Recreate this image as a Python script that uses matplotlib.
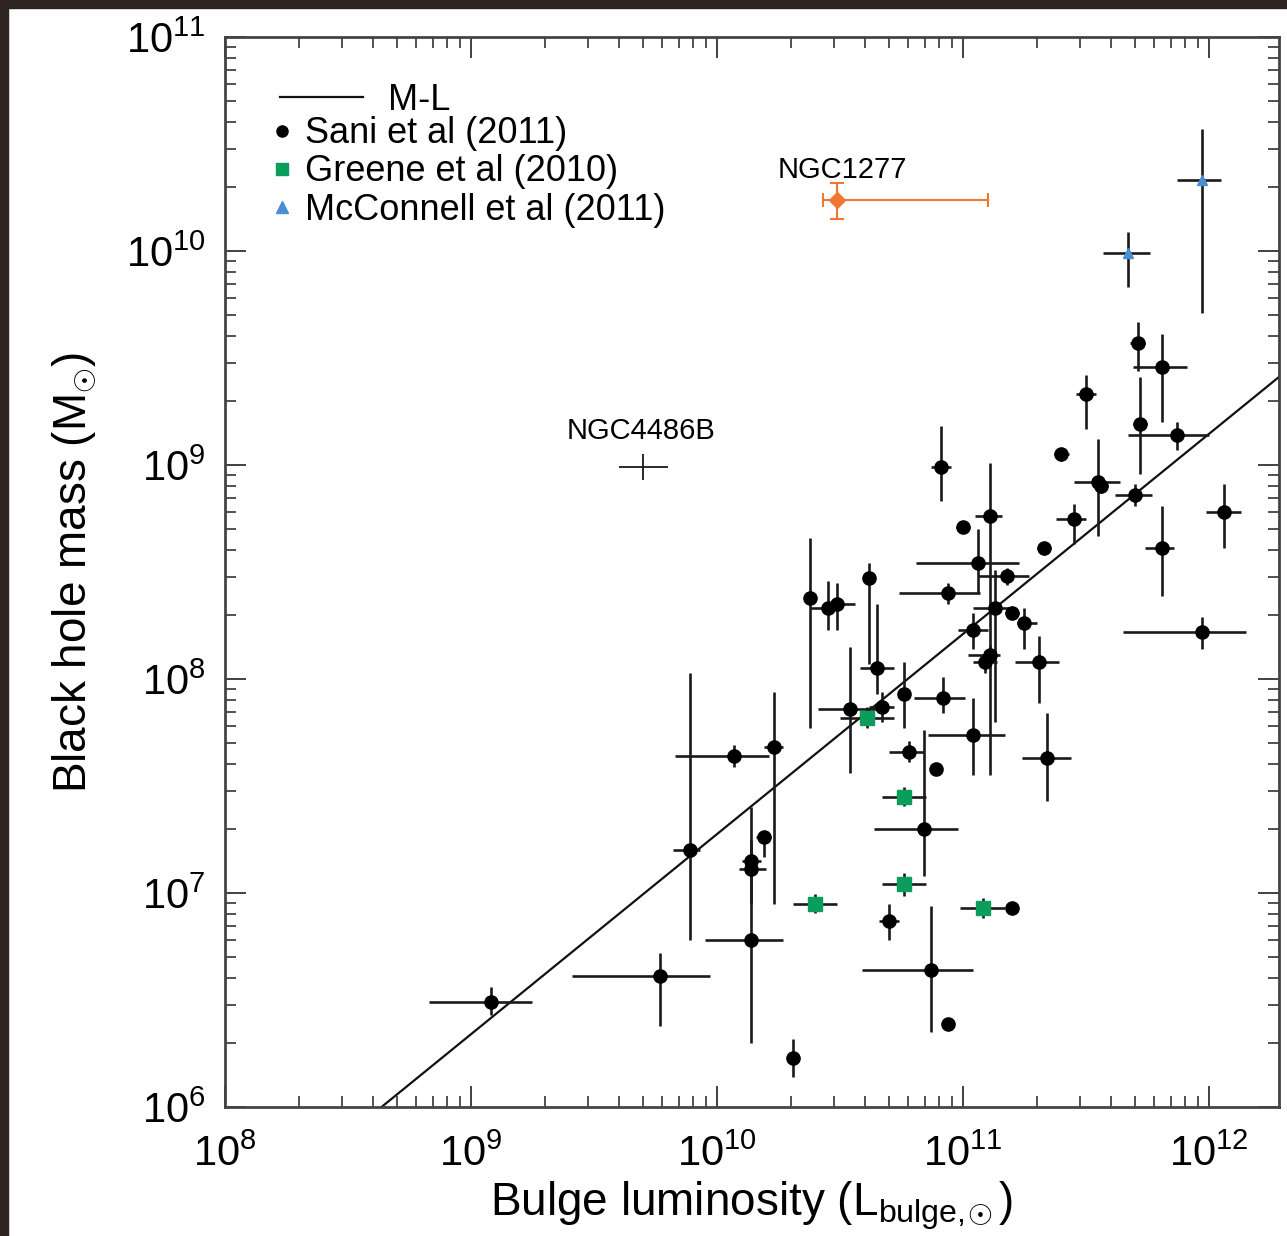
import numpy as np
import matplotlib
matplotlib.use("Agg")
import matplotlib.pyplot as plt
from matplotlib.patches import Rectangle
from matplotlib.lines import Line2D
from matplotlib.ticker import LogLocator, NullFormatter

plt.rcParams['font.family'] = ['Liberation Sans', 'DejaVu Sans']
plt.rcParams['mathtext.fontset'] = 'custom'
plt.rcParams['mathtext.rm'] = 'Liberation Sans'
plt.rcParams['mathtext.it'] = 'Liberation Sans:italic'

# Sani et al (2011): log L_bulge, log M_BH, errors in dex (minus, plus)
sani_logL = [9.08, 9.77, 9.89, 10.14, 10.14, 10.14, 10.19, 10.23, 10.07, 10.31,
             10.38, 10.45, 10.49, 10.62, 10.65, 10.54, 10.67, 10.76, 10.92, 10.78,
             10.89, 10.84, 10.70, 10.87, 10.94, 11.20, 11.04, 11.11, 11.13, 11.11,
             11.09, 10.91, 11.00, 11.06, 11.18, 10.94, 11.20, 11.25, 11.04, 11.31,
             11.34, 11.33, 11.40, 11.45, 11.55, 11.56, 11.70, 11.81, 12.06, 11.97,
             11.50, 11.71, 11.81, 11.72, 11.87]
sani_logM = [6.49, 6.61, 7.20, 6.78, 7.11, 7.15, 7.26, 7.68, 7.64, 6.23,
             8.38, 8.33, 8.35, 8.47, 8.05, 7.86, 7.87, 7.93, 7.91, 7.66,
             7.58, 7.30, 6.87, 6.64, 6.39, 6.93, 7.74, 8.76, 8.33, 8.11,
             8.08, 8.99, 8.71, 8.54, 8.48, 8.40, 8.31, 8.26, 8.23, 8.08,
             7.63, 8.61, 9.05, 8.75, 8.92, 8.90, 8.86, 8.61, 8.78, 8.22,
             9.33, 9.57, 9.46, 9.19, 9.14]
sani_xlo = [0.25, 0.36, 0.07, 0.19, 0.05, 0.04, 0.03, 0.04, 0.24, 0.0,
            0.02, 0.07, 0.05, 0.02, 0.07, 0.13, 0.05, 0.02, 0.12, 0.08,
            0.0, 0.20, 0.04, 0.28, 0.0, 0.0, 0.18, 0.06, 0.09, 0.09,
            0.05, 0.04, 0.03, 0.25, 0.12, 0.20, 0.03, 0.03, 0.06, 0.10,
            0.10, 0.03, 0.03, 0.07, 0.10, 0.03, 0.08, 0.07, 0.07, 0.32,
            0.04, 0.03, 0.12, 0.03, 0.20]
sani_xhi = [0.17, 0.20, 0.04, 0.13, 0.06, 0.04, 0.03, 0.04, 0.14, 0.0,
            0.02, 0.05, 0.07, 0.02, 0.07, 0.14, 0.05, 0.02, 0.09, 0.06,
            0.0, 0.14, 0.04, 0.17, 0.0, 0.0, 0.13, 0.05, 0.06, 0.04,
            0.05, 0.04, 0.03, 0.17, 0.09, 0.13, 0.03, 0.05, 0.06, 0.08,
            0.10, 0.03, 0.03, 0.05, 0.09, 0.03, 0.07, 0.05, 0.07, 0.18,
            0.04, 0.03, 0.10, 0.03, 0.13]
sani_ylo = [0.06, 0.23, 0.42, 0.48, 0.16, 0.05, 0.09, 0.73, 0.05, 0.09,
            0.61, 0.10, 0.12, 0.40, 0.12, 0.30, 0.07, 0.16, 0.07, 0.05,
            0.0, 0.22, 0.09, 0.29, 0.0, 0.0, 0.19, 1.21, 0.53, 0.05,
            0.05, 0.16, 0.03, 0.14, 0.04, 0.05, 0.03, 0.12, 0.09, 0.19,
            0.20, 0.03, 0.03, 0.12, 0.25, 0.03, 0.05, 0.22, 0.17, 0.08,
            0.16, 0.13, 0.26, 0.23, 0.07]
sani_yhi = [0.07, 0.11, 0.83, 0.47, 0.29, 0.05, 0.02, 0.26, 0.05, 0.09,
            0.28, 0.13, 0.10, 0.07, 0.30, 0.29, 0.07, 0.15, 0.10, 0.05,
            0.0, 0.46, 0.08, 0.30, 0.0, 0.0, 0.17, 0.25, 0.18, 0.05,
            0.05, 0.19, 0.03, 0.16, 0.04, 0.05, 0.03, 0.07, 0.08, 0.12,
            0.21, 0.03, 0.03, 0.07, 0.20, 0.03, 0.05, 0.20, 0.13, 0.07,
            0.09, 0.10, 0.15, 0.22, 0.06]

# Greene et al (2010)
greene_logL = [10.61, 10.76, 10.76, 10.40, 11.08]
greene_logM = [7.82, 7.45, 7.04, 6.95, 6.93]
greene_xerr = [0.11, 0.09, 0.09, 0.09, 0.09]
greene_yerr = [0.05, 0.045, 0.055, 0.045, 0.045]

# McConnell et al (2011)
mcc_logL = [11.97, 11.67]
mcc_logM = [10.33, 9.99]
mcc_xlo = [0.10, 0.10]
mcc_xhi = [0.08, 0.09]
mcc_ylo = [0.62, 0.16]
mcc_yhi = [0.24, 0.10]

# NGC1277 and NGC4486B
n1277 = dict(logL=10.49, logM=10.24, xlo=0.06, xhi=0.61, ylo=0.09, yhi=0.08)
n4486b = dict(logL=9.70, logM=8.99, xlo=0.10, xhi=0.10, ylo=0.06, yhi=0.06)

# M-L relation: log M = ml_a + ml_b * (log L - 11)
ml_a = 8.21
ml_b = 0.935


def errs(logv, lo, hi):
    logv = np.asarray(logv, float)
    v = 10 ** logv
    return v, [v - 10 ** (logv - np.asarray(lo)), 10 ** (logv + np.asarray(hi)) - v]


fig = plt.figure(figsize=(12.87, 12.36), dpi=100)
fig.patches.append(Rectangle((0, 1 - 8 / 1236), 1, 8 / 1236, transform=fig.transFigure,
                             color='#2d2420', zorder=-1))
fig.patches.append(Rectangle((0, 0), 8 / 1287, 1, transform=fig.transFigure,
                             color='#2d2420', zorder=-1))
ax = fig.add_axes([225 / 1287, 1 - 1107 / 1236, 1054 / 1287, 1070 / 1236])
ax.set_xscale('log')
ax.set_yscale('log')
ax.set_xlim(1e8, 10 ** 12.285)
ax.set_ylim(1e6, 1e11)

ecol = '#1a1a1a'
x, xe = errs(sani_logL, sani_xlo, sani_xhi)
y, ye = errs(sani_logM, sani_ylo, sani_yhi)
ax.errorbar(x, y, xerr=xe, yerr=ye, fmt='o', color='black', ms=9.5, ecolor=ecol,
            elinewidth=1.9, capsize=0, zorder=3)

x, xe = errs(greene_logL, greene_xerr, greene_xerr)
y, ye = errs(greene_logM, greene_yerr, greene_yerr)
ax.errorbar(x, y, xerr=xe, yerr=ye, fmt='s', color='#0a9d5c', ms=9.5, ecolor=ecol,
            elinewidth=1.9, capsize=0, zorder=4)

x, xe = errs(mcc_logL, mcc_xlo, mcc_xhi)
y, ye = errs(mcc_logM, mcc_ylo, mcc_yhi)
ax.errorbar(x, y, xerr=xe, yerr=ye, fmt='^', color='#4a8fd4', ms=7.5, ecolor=ecol,
            elinewidth=1.9, capsize=0, zorder=4)

x, xe = errs([n1277['logL']], [n1277['xlo']], [n1277['xhi']])
y, ye = errs([n1277['logM']], [n1277['ylo']], [n1277['yhi']])
ax.errorbar(x, y, xerr=xe, yerr=ye, fmt='D', color='#f07633', ms=8.5, ecolor='#f07633',
            elinewidth=1.5, capsize=5, capthick=1.5, zorder=4)
ax.text(x[0] * 10 ** 0.02, y[0] * 10 ** 0.075, 'NGC1277', fontsize=21, ha='center', va='bottom')

x, xe = errs([n4486b['logL']], [n4486b['xlo']], [n4486b['xhi']])
y, ye = errs([n4486b['logM']], [n4486b['ylo']], [n4486b['yhi']])
ax.errorbar(x, y, xerr=xe, yerr=ye, fmt='none', ecolor=ecol, elinewidth=1.3, capsize=0)
ax.text(x[0] * 10 ** -0.01, y[0] * 10 ** 0.105, 'NGC4486B', fontsize=21, ha='center', va='bottom')

lx = np.array([8.0, 12.4])
ax.plot(10 ** lx, 10 ** (ml_a + ml_b * (lx - 11)), color='#111111', lw=1.6, zorder=2)

for axis in (ax.xaxis, ax.yaxis):
    axis.set_major_locator(LogLocator(base=10, numticks=20))
    axis.set_minor_locator(LogLocator(base=10, subs=np.arange(2, 10), numticks=20))
    axis.set_minor_formatter(NullFormatter())
ax.tick_params(which='both', direction='in', top=True, right=True, color='#333333')
ax.tick_params(which='major', length=15, width=1.3, labelsize=30)
ax.tick_params(axis='x', which='major', pad=20)
ax.tick_params(axis='y', which='major', pad=14)
ax.tick_params(which='minor', length=8, width=1.2)
for s in ax.spines.values():
    s.set_linewidth(2.0)
    s.set_color('#444444')

ax.set_xlabel(r'Bulge luminosity (L$_{\mathrm{bulge,}\!\!\odot}$)', fontsize=33, labelpad=3)
ax.set_ylabel(r'Black hole mass (M$_{\odot}$)', fontsize=33, labelpad=20)

h1 = [Line2D([], [], color='#111111', lw=1.6)]
leg1 = ax.legend(h1, ['M-L'], loc='upper left', bbox_to_anchor=(0.052, 0.957),
                 frameon=False, fontsize=26, handlelength=2.3, handletextpad=0.7,
                 borderpad=0, borderaxespad=0)
ax.add_artist(leg1)
h2 = [Line2D([], [], ls='none', marker='o', color='black', ms=8),
      Line2D([], [], ls='none', marker='s', color='#0a9d5c', ms=9),
      Line2D([], [], ls='none', marker='^', color='#4a8fd4', ms=8)]
ax.legend(h2, ['Sani et al (2011)', 'Greene et al (2010)', 'McConnell et al (2011)'],
          loc='upper left', bbox_to_anchor=(0.045, 0.926), frameon=False, fontsize=26,
          handlelength=0.55, handletextpad=0.35, labelspacing=0.09, borderpad=0,
          borderaxespad=0)

fig.savefig('out.png', dpi=100)
